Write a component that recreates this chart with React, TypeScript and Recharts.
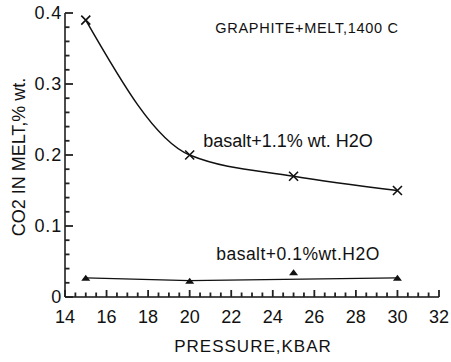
import React from "react";
import { ComposedChart, Line, XAxis, YAxis } from "recharts";

const pressure = [15, 20, 25, 30];
const co2High = [0.39, 0.2, 0.17, 0.15];
const co2LowPoints = [0.027, 0.023, 0.035, 0.027];
const co2LowFit = [0.027, 0.023, null, 0.027];

const xTicks = [14, 14.5, 15, 15.5, 16, 16.5, 17, 17.5, 18, 18.5, 19, 19.5, 20, 20.5, 21, 21.5, 22, 22.5, 23, 23.5, 24, 24.5, 25, 25.5, 26, 26.5, 27, 27.5, 28, 28.5, 29, 29.5, 30, 30.5, 31, 31.5, 32];
const xMajorTicks = [14, 16, 18, 20, 22, 24, 26, 28, 30, 32];
const yTicks = [0, 0.02, 0.04, 0.06, 0.08, 0.1, 0.12, 0.14, 0.16, 0.18, 0.2, 0.22, 0.24, 0.26, 0.28, 0.3, 0.32, 0.34, 0.36, 0.38, 0.4];
const yMajorTicks = [0, 0.1, 0.2, 0.3, 0.4];
const yMajorLabels = ["0", "0.1", "0.2", "0.3", "0.4"];

const data = pressure.map((p, i) => ({
  p,
  high: co2High[i],
  lowPt: co2LowPoints[i],
  lowFit: co2LowFit[i],
}));

const FONT = "'Liberation Sans', Arial, Helvetica, sans-serif";
const INK = "#111";
const TICK_INK = "#222";
const X_DOMAIN: [number, number] = [14, 32];
const Y_DOMAIN: [number, number] = [0, 0.4];
const OFF = 8; // default tickSize (6) + tickMargin (2)

const XTick = (props: any) => {
  const { x, y, payload } = props;
  const v = payload.value;
  const major = xMajorTicks.indexOf(v) >= 0;
  const ay = y - OFF;
  return (
    <g>
      <path d={`M${x},${ay}v${-(major ? 7 : 4.5)}`} stroke={TICK_INK} strokeWidth={1.8} />
      {major && (
        <text x={x} y={ay + 26} textAnchor="middle" fontFamily={FONT} fontSize={18} fill={INK}>
          {String(v)}
        </text>
      )}
    </g>
  );
};

const YTick = (props: any) => {
  const { x, y, payload } = props;
  const v = payload.value;
  const idx = yMajorTicks.findIndex((m) => Math.abs(m - v) < 1e-9);
  const major = idx >= 0;
  const ax = x + OFF;
  return (
    <g>
      <path d={`M${ax},${y}h${major ? 8 : 4.5}`} stroke={TICK_INK} strokeWidth={1.8} />
      {major && (
        <text x={ax - 3} y={y + 6} textAnchor="end" fontFamily={FONT} fontSize={18} letterSpacing={0.8} fill={INK}>
          {yMajorLabels[idx]}
        </text>
      )}
    </g>
  );
};

const CrossDot = (props: any) => {
  const { cx, cy } = props;
  if (cx == null || cy == null) return null;
  const s = 4.5;
  return (
    <path
      d={`M${cx - s},${cy - s}L${cx + s},${cy + s}M${cx - s},${cy + s}L${cx + s},${cy - s}`}
      stroke={INK}
      strokeWidth={1.6}
      fill="none"
    />
  );
};

const TriDot = (props: any) => {
  const { cx, cy } = props;
  if (cx == null || cy == null) return null;
  const w = 4.5;
  const h = 6;
  return <path d={`M${cx - w},${cy + h / 2}L${cx + w},${cy + h / 2}L${cx},${cy - h / 2}Z`} fill={INK} stroke="none" />;
};

export default function App() {
  return (
    <div style={{ position: "absolute", left: 0, top: 0, width: 451, height: 362, background: "#fff" }}>
      <ComposedChart
        width={451}
        height={362}
        data={data}
        margin={{ top: 13, right: 12, left: 0, bottom: 0 }}
      >
        <YAxis
          yAxisId="left"
          type="number"
          domain={Y_DOMAIN}
          ticks={yTicks}
          interval={0}
          width={65}
          tickLine={false}
          tick={<YTick />}
          axisLine={{ stroke: INK, strokeWidth: 1.5 }}
          allowDataOverflow
        />
        <YAxis
          yAxisId="right"
          orientation="right"
          type="number"
          domain={Y_DOMAIN}
          width={0}
          tick={false}
          tickLine={false}
          axisLine={{ stroke: INK, strokeWidth: 1.5 }}
        />
        <XAxis
          xAxisId="bottom"
          dataKey="p"
          type="number"
          domain={X_DOMAIN}
          ticks={xTicks}
          interval={0}
          height={65}
          tickLine={false}
          tick={<XTick />}
          axisLine={{ stroke: INK, strokeWidth: 1.5 }}
          allowDataOverflow
        />
        <XAxis
          xAxisId="top"
          orientation="top"
          dataKey="p"
          type="number"
          domain={X_DOMAIN}
          height={0}
          tick={false}
          tickLine={false}
          axisLine={{ stroke: INK, strokeWidth: 1.5 }}
        />
        <Line
          xAxisId="bottom"
          yAxisId="left"
          type="monotone"
          dataKey="high"
          stroke={INK}
          strokeWidth={1.5}
          dot={<CrossDot />}
          activeDot={false}
          isAnimationActive={false}
        />
        <Line
          xAxisId="bottom"
          yAxisId="left"
          type="linear"
          dataKey="lowFit"
          connectNulls
          stroke={INK}
          strokeWidth={1.2}
          dot={false}
          activeDot={false}
          isAnimationActive={false}
        />
        <Line
          xAxisId="bottom"
          yAxisId="left"
          type="linear"
          dataKey="lowPt"
          stroke="none"
          dot={<TriDot />}
          activeDot={false}
          isAnimationActive={false}
        />
      </ComposedChart>
      <svg
        width={451}
        height={362}
        style={{ position: "absolute", left: 0, top: 0, pointerEvents: "none" }}
      >
        <text x={307} y={33} textAnchor="middle" fontFamily={FONT} fontSize={14.5} letterSpacing={0.7} fill={INK}>
          GRAPHITE+MELT,1400 C
        </text>
        <text x={288} y={147} textAnchor="middle" fontFamily={FONT} fontSize={18} fill={INK}>
          basalt+1.1% wt. H2O
        </text>
        <text x={298} y={260} textAnchor="middle" fontFamily={FONT} fontSize={17.5} letterSpacing={0.5} fill={INK}>
          basalt+0.1%wt.H2O
        </text>
        <text x={253} y={352} textAnchor="middle" fontFamily={FONT} fontSize={17} letterSpacing={1} fill={INK}>
          PRESSURE,KBAR
        </text>
        <text
          x={0}
          y={0}
          transform="translate(25,157) rotate(-90)"
          textAnchor="middle"
          fontFamily={FONT}
          fontSize={18}
          fill={INK}
        >
          CO2 IN MELT,% wt.
        </text>
      </svg>
    </div>
  );
}
